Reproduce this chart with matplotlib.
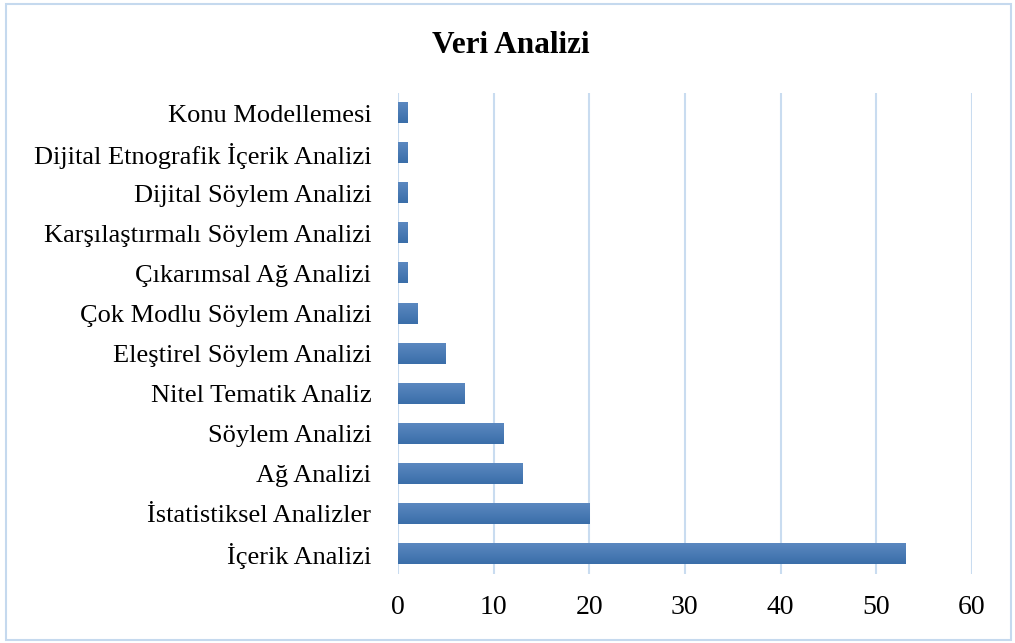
import numpy as np
import matplotlib.pyplot as plt
from matplotlib.patches import Rectangle
from matplotlib.colors import LinearSegmentedColormap

categories = ["İçerik Analizi", "İstatistiksel Analizler", "Ağ Analizi", "Söylem Analizi",
              "Nitel Tematik Analiz", "Eleştirel Söylem Analizi", "Çok Modlu Söylem Analizi",
              "Çıkarımsal Ağ Analizi", "Karşılaştırmalı Söylem Analizi", "Dijital Söylem Analizi",
              "Dijital Etnografik İçerik Analizi", "Konu Modellemesi"]
values = [53, 20, 13, 11, 7, 5, 2, 1, 1, 1, 1, 1]
xticks = [0, 10, 20, 30, 40, 50, 60]

plt.rcParams['font.family'] = ['Liberation Serif', 'DejaVu Serif']

fig = plt.figure(figsize=(10.15, 6.43), dpi=100)
ax = fig.add_axes([0.392, 0.1073, 0.5655, 0.748])

y = np.arange(len(categories))
bars = ax.barh(y, values, height=0.5, color='#4a7ab5', zorder=2)

# gradient fill on each bar (light top, dark bottom)
cmap = LinearSegmentedColormap.from_list('g', ['#3a6ea9', '#5b88c0'])
grad = np.linspace(0, 1, 64).reshape(-1, 1)
for b in bars:
    x0, y0, w, h = b.get_x(), b.get_y(), b.get_width(), b.get_height()
    ax.imshow(grad, cmap=cmap, aspect='auto', origin='lower',
              extent=[x0, x0 + w, y0, y0 + h], zorder=3)
    b.set_visible(False)

ax.set_xlim(0, 60)
ax.set_ylim(-0.5, len(categories) - 0.5)
ax.set_xticks(xticks)
ax.set_yticks(y)
ax.set_yticklabels(categories)
ax.tick_params(axis='y', length=0, pad=19, labelsize=19)
ax.tick_params(axis='x', length=0, pad=15, labelsize=20)
ax.grid(axis='x', color='#c9dcf0', linewidth=1.5, zorder=0)
for s in ax.spines.values():
    s.set_visible(False)

fig.text(0.5035, 0.93, "Veri Analizi", ha='center', va='center', fontsize=22.5, fontweight='bold')

fig.patches.append(Rectangle((0.006, 0.004), 0.99, 0.99, transform=fig.transFigure,
                             fill=False, edgecolor='#c5d9ee', linewidth=1.5))

fig.savefig('out.png', dpi=100)
